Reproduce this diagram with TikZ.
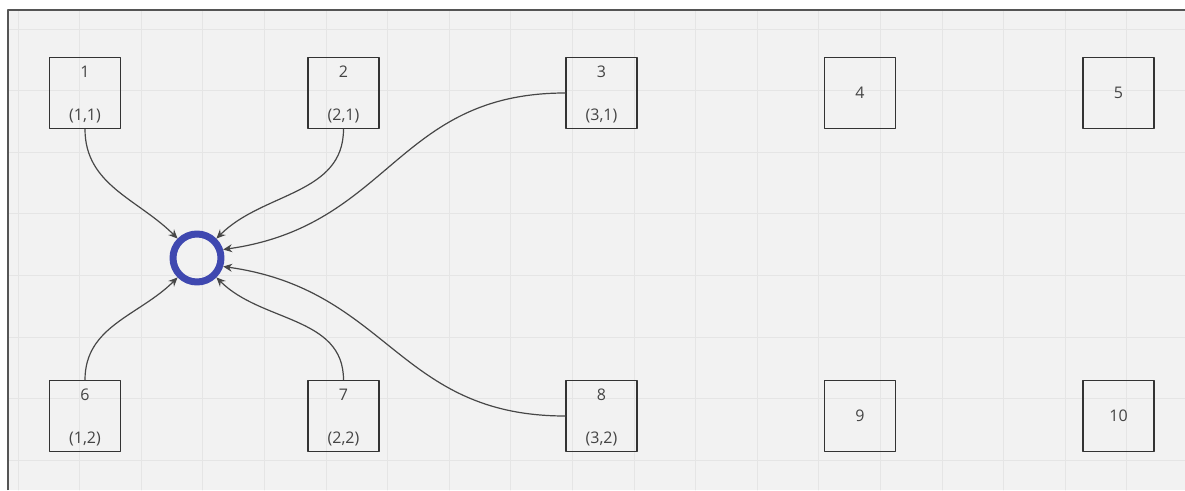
\documentclass[tikz,border=0pt]{standalone}
\usepackage{fontspec}
\setmainfont{Open Sans}
\usetikzlibrary{arrows.meta}
\definecolor{canvasgray}{RGB}{242,242,242}
\definecolor{gridgray}{RGB}{229,229,229}
\definecolor{framegray}{RGB}{85,85,85}
\definecolor{boxline}{RGB}{51,51,51}
\definecolor{inkgray}{RGB}{68,68,68}
\definecolor{hubblue}{RGB}{63,72,176}

\begin{document}
\begin{tikzpicture}[x=1pt,y=-1pt,line cap=round,line join=round,
    cell/.style={draw=boxline,line width=1.3pt,minimum size=71pt,inner sep=0pt},
    celltext/.style={text=inkgray,font=\fontsize{16}{19}\selectfont,inner sep=0pt},
    link/.style={draw=boxline!90,line width=1.2pt,-{Stealth[length=9pt,width=8pt]}}]
    \useasboundingbox (0,0) rectangle (1185,490);
    \fill[canvasgray] (8,10) rectangle (1185,490);
    \foreach \k in {0,...,18}
        \draw[gridgray,line width=0.8pt] (18+61.6*\k,10) -- (18+61.6*\k,490);
    \foreach \k in {0,...,7}
        \draw[gridgray,line width=0.8pt] (8,29+61.6*\k) -- (1185,29+61.6*\k);
    \draw[framegray,line width=1.5pt,line cap=butt] (8,490) -- (8,10) -- (1185,10);

    % grid of cells
    \foreach \n/\x in {1/85,2/343.5,3/601.5,4/860,5/1118.5}
        \node[cell] (b\n) at (\x,93) {};
    \foreach \n/\x in {6/85,7/343.5,8/601.5,9/860,10/1118.5}
        \node[cell] (b\n) at (\x,416) {};

    % labelled cells
    \foreach \n/\x/\y/\c in {1/85/93/{(1,1)},2/343.5/93/{(2,1)},3/601.5/93/{(3,1)},
                             6/85/416/{(1,2)},7/343.5/416/{(2,2)},8/601.5/416/{(3,2)}} {
        \node[celltext] (n\n) at (\x,\y-21) {\n};
        \node[celltext] (p\n) at (\x,\y+23) {\c};
    }
    \foreach \n in {4,5,9,10}
        \node[celltext] (n\n) at (b\n) {\n};

    % hub
    \node[draw=hubblue,line width=7pt,circle,minimum size=48pt,inner sep=0pt] (hub) at (197,258) {};

    \draw[link] (b1.south) to[out=-90,in=135] (hub.135);
    \draw[link] (b2.south) to[out=-90,in=45] (hub.45);
    \draw[link] (b3.west) to[out=180,in=8,looseness=1.15] (hub.18);
    \draw[link] (b6.north) to[out=90,in=-135] (hub.-135);
    \draw[link] (b7.north) to[out=90,in=-45] (hub.-45);
    \draw[link] (b8.west) to[out=180,in=-8,looseness=1.15] (hub.-18);
\end{tikzpicture}
\end{document}
